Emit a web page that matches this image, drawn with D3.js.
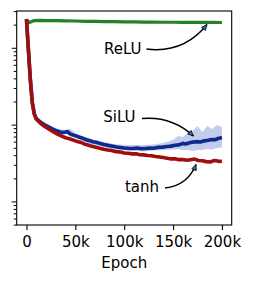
<!DOCTYPE html>
<html><head><meta charset="utf-8">
<script src="https://cdn.jsdelivr.net/npm/d3@7"></script>
<style>body{margin:0;background:#fff}svg{display:block}text{font-family:"DejaVu Sans",sans-serif}</style>
</head><body><svg id="c" width="253" height="283"></svg>
<script>
// ---- data (epochs in thousands) ----
const reluEpoch = [0, 3, 8, 15, 20, 30, 40, 50, 60, 70, 80, 90, 100, 110, 120, 130, 140, 150, 160, 170, 180, 190, 200];
const reluLoss  = [0.233, 0.213, 0.226, 0.2276, 0.2262, 0.2255, 0.2240, 0.2230, 0.2209, 0.2204, 0.2190, 0.2188, 0.2172, 0.2170, 0.2158, 0.2160, 0.2148, 0.2150, 0.2140, 0.2142, 0.2135, 0.2136, 0.2131];

const tanhEpoch = [0, 2, 4, 6, 8, 10, 14, 18, 22, 26, 30, 35, 40, 43, 46, 48, 50, 53, 56, 59, 62, 65, 68, 71, 75, 79, 83, 87, 92, 96, 100, 104, 108, 112, 116, 120, 124, 128, 132, 136, 140, 144, 148, 152, 156, 160, 164, 168, 172, 176, 180, 184, 188, 191, 194, 197, 200];
const tanhLoss  = [0.2366, 0.0935, 0.0380, 0.0191, 0.0137, 0.0118, 0.01049, 0.00959, 0.00890, 0.00826, 0.00771, 0.00721, 0.00675, 0.00662, 0.00640, 0.00630, 0.00615, 0.00598, 0.00585, 0.00560, 0.00548, 0.00532, 0.00518, 0.00508, 0.00494, 0.00478, 0.00468, 0.00462, 0.00445, 0.00440, 0.00428, 0.00425, 0.00416, 0.00418, 0.00406, 0.00404, 0.00397, 0.00394, 0.00384, 0.00380, 0.00374, 0.00366, 0.00358, 0.00360, 0.00350, 0.00352, 0.00344, 0.00350, 0.00356, 0.00342, 0.00338, 0.00330, 0.00326, 0.00338, 0.00340, 0.00332, 0.00334];

const siluEpoch = [0, 2, 4, 6, 8, 10, 14, 18, 22, 26, 30, 34, 38, 40, 42, 44, 46, 49, 52, 55, 57, 60, 62, 65, 68, 71, 75, 79, 83, 87, 92, 96, 100, 104, 109, 113, 118, 122, 126, 130, 134, 139, 144, 148, 152, 156, 160, 163, 167, 170, 174, 178, 182, 186, 190, 193, 196, 200];
const siluLoss  = [0.2366, 0.0935, 0.0380, 0.0191, 0.0138, 0.0120, 0.01081, 0.01003, 0.00945, 0.00890, 0.00838, 0.00801, 0.00789, 0.00800, 0.00815, 0.00770, 0.00745, 0.00725, 0.00702, 0.00680, 0.00668, 0.00645, 0.00632, 0.00615, 0.00600, 0.00590, 0.00570, 0.00552, 0.00537, 0.00528, 0.00512, 0.00505, 0.00497, 0.00492, 0.00490, 0.00496, 0.00486, 0.00490, 0.00495, 0.00493, 0.00505, 0.00510, 0.00520, 0.00525, 0.00538, 0.00545, 0.00570, 0.00560, 0.00580, 0.00592, 0.00600, 0.00595, 0.00615, 0.00625, 0.00640, 0.00636, 0.00660, 0.00680];

const bandEpoch = [8, 10, 20, 30, 40, 45, 50, 60, 70, 80, 90, 100, 110, 120, 130, 140, 150, 155, 160, 165, 170, 175, 180, 185, 190, 195, 200];
const siluHi    = [0.0150, 0.01294, 0.01034, 0.00890, 0.00851, 0.00877, 0.00777, 0.00690, 0.00630, 0.00594, 0.00559, 0.00543, 0.00543, 0.00543, 0.00551, 0.00576, 0.00630, 0.00711, 0.00690, 0.00777, 0.00826, 0.00959, 0.00801, 0.00959, 0.00877, 0.00988, 0.00931];
const siluLo    = [0.0128, 0.01114, 0.00903, 0.00789, 0.00755, 0.00711, 0.00669, 0.00594, 0.00543, 0.00511, 0.00482, 0.00460, 0.00453, 0.00447, 0.00460, 0.00467, 0.00474, 0.00482, 0.00467, 0.00467, 0.00453, 0.00467, 0.00467, 0.00482, 0.00474, 0.00496, 0.00504];

const xTicks = [0, 50, 100, 150, 200];
const xTickLabels = ["0", "50k", "100k", "150k", "200k"];
const xLabel = "Epoch";

// annotations: label, text anchor (epoch, loss), arrow start (epoch, loss), arrow tip (epoch, loss)
const annLabels = ["ReLU", "SiLU", "tanh"];
const annText   = [[79.3, 0.0972], [78.6, 0.01275], [100.8, 0.00155]];
const annStart  = [[122.8, 0.0963], [118.2, 0.01201], [141.8, 0.001496]];
const annTip    = [[184.7, 0.2007], [170.9, 0.00711], [173.5, 0.003026]];
const annBend   = [0.28, -0.22, 0.3];

// ---- drawing ----
const svg = d3.select("#c");
const L = 16.7, R = 231.7, T = 11, B = 225;
const x = d3.scaleLinear().domain([-10, 210]).range([L, R]);
const y = d3.scaleLog().domain([4.94e-4, 0.301]).range([B, T]);

const defs = svg.append("defs");
defs.append("clipPath").attr("id", "clip").append("rect")
  .attr("x", L).attr("y", T).attr("width", R - L).attr("height", B - T);
defs.append("marker").attr("id", "ah").attr("viewBox", "0 0 10 10")
  .attr("refX", 9).attr("refY", 5).attr("markerWidth", 7).attr("markerHeight", 7)
  .attr("markerUnits", "userSpaceOnUse").attr("orient", "auto")
  .append("path").attr("d", "M1,1.5 L9,5 L1,8.5 Z")
  .attr("fill", "#1f77b4").attr("stroke", "#000").attr("stroke-width", 1.1);

const g = svg.append("g").attr("clip-path", "url(#clip)");
const line = (xs, ys) => d3.line().x((d, i) => x(xs[i])).y((d, i) => y(ys[i]))(xs);

const band = d3.area().x((d, i) => x(bandEpoch[i])).y0((d, i) => y(siluLo[i])).y1((d, i) => y(siluHi[i]));
g.append("path").attr("d", band(bandEpoch)).attr("fill", "#b4c0e6").attr("opacity", 0.8);

g.append("path").attr("d", line(reluEpoch, reluLoss)).attr("fill", "none")
  .attr("stroke", "#23812a").attr("stroke-width", 3.2).attr("stroke-linejoin", "round");
g.append("path").attr("d", line(siluEpoch, siluLoss)).attr("fill", "none")
  .attr("stroke", "#0d2a8e").attr("stroke-width", 3.6).attr("stroke-linejoin", "round");
g.append("path").attr("d", line(tanhEpoch, tanhLoss)).attr("fill", "none")
  .attr("stroke", "#a00d0d").attr("stroke-width", 3.6).attr("stroke-linejoin", "round");

// frame
svg.append("rect").attr("x", L).attr("y", T).attr("width", R - L).attr("height", B - T)
  .attr("fill", "none").attr("stroke", "#000").attr("stroke-width", 1.1);

// x axis
const xa = svg.append("g").attr("transform", `translate(0,${B})`)
  .call(d3.axisBottom(x).tickValues(xTicks).tickFormat((d, i) => xTickLabels[i]).tickSize(5).tickPadding(6));
xa.select(".domain").remove();
xa.selectAll("line").attr("stroke", "#000").attr("stroke-width", 1.1);
xa.selectAll("text").attr("font-size", 15).attr("fill", "#000").attr("font-family", "DejaVu Sans");

// y axis: log ticks, no labels
const ya = svg.append("g").attr("transform", `translate(${L},0)`)
  .call(d3.axisLeft(y).ticks(10).tickFormat("").tickSize(3));
ya.select(".domain").remove();
ya.selectAll(".tick line").attr("stroke", "#000").attr("stroke-width", 1)
  .attr("x2", d => Math.abs(Math.log10(d) - Math.round(Math.log10(d))) < 1e-9 ? -5 : -3);

svg.append("text").attr("x", (L + R) / 2).attr("y", 268).attr("text-anchor", "middle")
  .attr("font-size", 15).text(xLabel);

// annotations
annLabels.forEach((lab, i) => {
  svg.append("text").attr("x", x(annText[i][0])).attr("y", y(annText[i][1]) + 5.4)
    .attr("font-size", 15).text(lab);
  const x0 = x(annStart[i][0]), y0 = y(annStart[i][1]);
  const x1 = x(annTip[i][0]), y1 = y(annTip[i][1]);
  const mx = (x0 + x1) / 2, my = (y0 + y1) / 2, dx = x1 - x0, dy = y1 - y0;
  const cx = mx - annBend[i] * dy, cy = my + annBend[i] * dx;
  svg.append("path").attr("d", `M${x0},${y0} Q${cx},${cy} ${x1},${y1}`)
    .attr("fill", "none").attr("stroke", "#000").attr("stroke-width", 1.4)
    .attr("marker-end", "url(#ah)");
});
</script></body></html>
